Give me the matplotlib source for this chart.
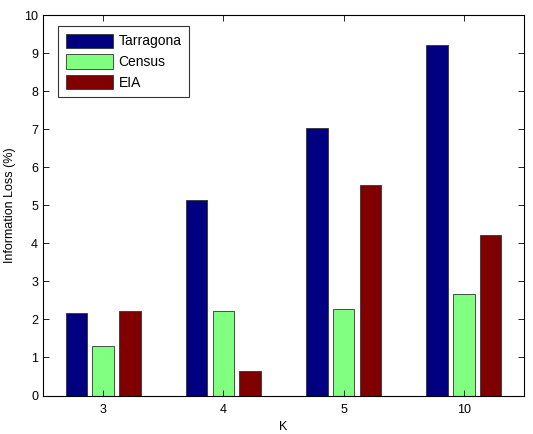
import numpy as np
import matplotlib
matplotlib.use('Agg')
import matplotlib.pyplot as plt

plt.rcParams['font.family'] = ['Liberation Sans', 'DejaVu Sans']

# data
k_labels = ['3', '4', '5', '10']
series_names = ['Tarragona', 'Census', 'EIA']
tarragona = [2.17, 5.13, 7.02, 9.20]
census = [1.30, 2.21, 2.27, 2.66]
eia = [2.22, 0.65, 5.53, 4.21]
colors = ['#000080', '#80ff80', '#800000']

fig = plt.figure(figsize=(5.33, 4.34), dpi=100)
ax = fig.add_axes([0.0807, 0.0887, 0.9024, 0.8767])

x = np.arange(1, len(k_labels) + 1)
offset = 0.667 / 3
width = 0.8 * offset
for i, (vals, name, c) in enumerate(zip([tarragona, census, eia], series_names, colors)):
    ax.bar(x + (i - 1) * offset, vals, width=width, color=c, edgecolor='#333333',
           linewidth=0.6, label=name)

ax.set_xlim(0.5, 4.5)
ax.set_ylim(0, 10)
ax.set_xticks(x)
ax.set_xticklabels(k_labels)
ax.set_yticks(range(0, 11))
ax.tick_params(direction='in', top=True, right=True, labelsize=9, length=4, width=0.6)
ax.tick_params(axis='x', pad=6)
for s in ax.spines.values():
    s.set_linewidth(0.8)
ax.set_xlabel('K', fontsize=9, labelpad=4)
ax.set_ylabel('Information Loss (%)', fontsize=9, labelpad=6)

leg = ax.legend(loc='upper left', bbox_to_anchor=(15 / 481, 1 - 11 / 380.5),
                fontsize=10, frameon=True, fancybox=False,
                edgecolor='black', handlelength=3.4, handleheight=1.2,
                borderaxespad=0, labelspacing=0.42, handletextpad=0.4,
                borderpad=0.55)
leg.get_frame().set_linewidth(0.8)

plt.savefig('out.png', dpi=100)
